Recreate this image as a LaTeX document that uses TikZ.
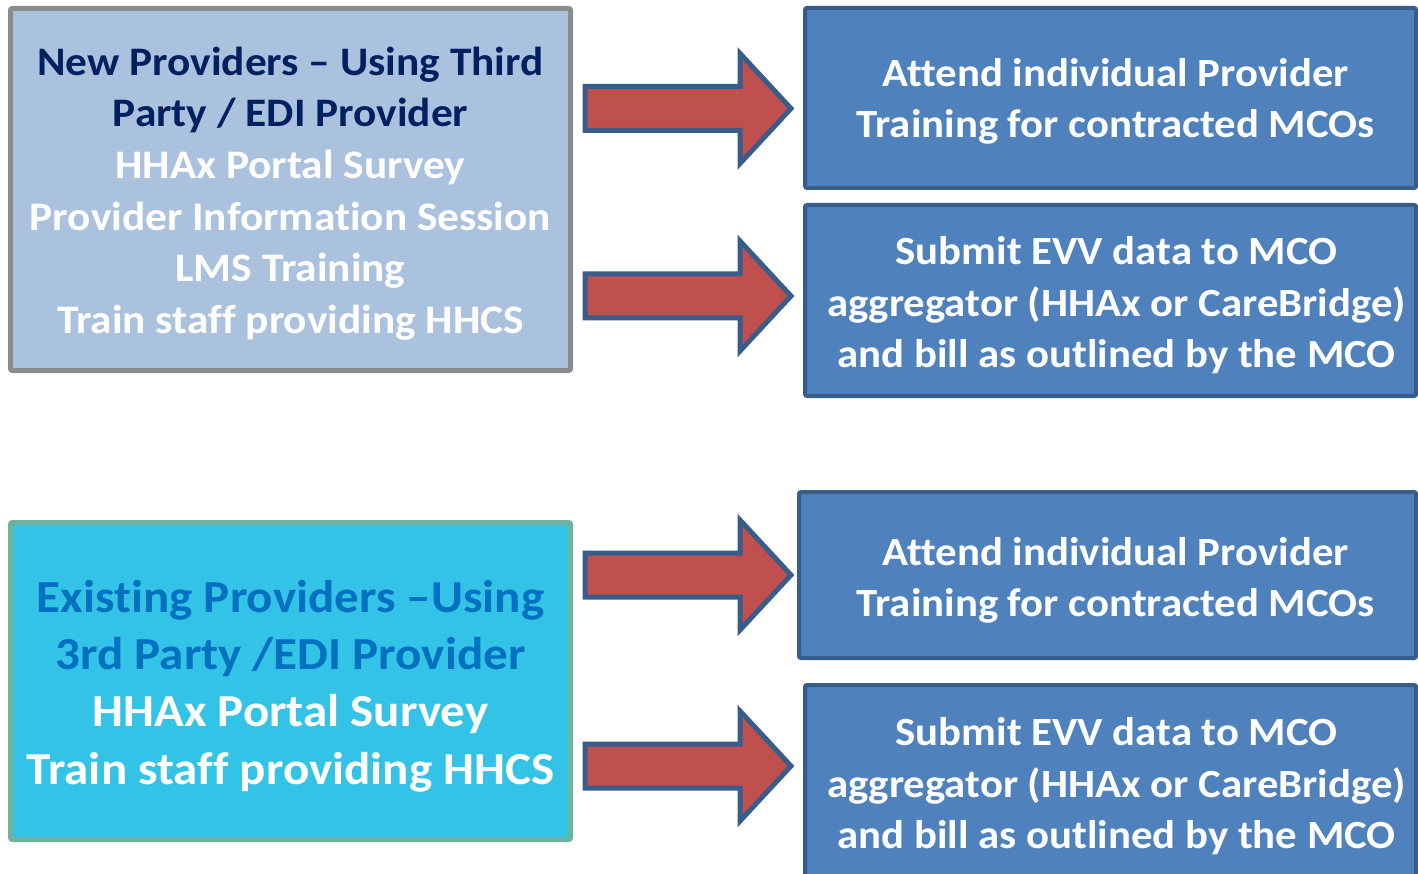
\documentclass[tikz,border=0pt]{standalone}
\usepackage{fontspec}
\setmainfont{Carlito}[FakeStretch=1.07, Ligatures={NoCommon,TeX}]
\usetikzlibrary{calc}
\definecolor{boxAfill}{HTML}{ABC2DF}
\definecolor{boxAline}{HTML}{8C8C8C}
\definecolor{boxBfill}{HTML}{32C3E6}
\definecolor{boxBline}{HTML}{6DB3A0}
\definecolor{rfill}{HTML}{4F81BD}
\definecolor{rline}{HTML}{385D8A}
\definecolor{arrfill}{HTML}{C0504D}
\definecolor{titleA}{HTML}{002060}
\definecolor{titleB}{HTML}{0070C0}
\tikzset{
  leftbox/.style={rectangle, rounded corners=2pt, line width=5pt, inner sep=0pt, minimum width=560pt},
  rightbox/.style={rectangle, rounded corners=2pt, line width=4pt, draw=rline, fill=rfill, inner sep=0pt},
  boxtext/.style={inner sep=0pt, align=center, text=white, font=\bfseries\fontsize{40.5}{51.6}\selectfont},
  rtext/.style={boxtext, font=\bfseries\fontsize{40}{51.5}\selectfont},
  blockarr/.style={draw=rline, fill=arrfill, line width=5pt, line join=miter}
}
\newcommand\blockarrow[2]{%
  \draw[blockarr] let \p1=(#1), \p2=(#2) in
    (\x1,\y1+22pt) -- (\x2-51pt,\y1+22pt) -- (\x2-51pt,\y1+55pt) -- (\x2,\y1)
    -- (\x2-51pt,\y1-55pt) -- (\x2-51pt,\y1-22pt) -- (\x1,\y1-22pt) -- cycle;}
\begin{document}
\begin{tikzpicture}[x=1pt,y=-1pt]
\useasboundingbox (0,0) rectangle (1418,874);
% left boxes
\node[leftbox, draw=boxAline, fill=boxAfill, minimum height=362pt] (L1) at (290.5,189.5) {};
\node[boxtext] (L1t) at ($(L1.center)+(0,4)$)
  {\textcolor{titleA}{New Providers -- Using Third}\\
   \textcolor{titleA}{Party / EDI Provider}\\
   HHAx Portal Survey\\
   Provider Information Session\\
   LMS Training\\
   Train staff providing HHCS};
\node[leftbox, draw=boxBline, fill=boxBfill, minimum height=317pt] (L2) at (290.5,681) {};
\node[boxtext, font=\bfseries\fontsize{45.8}{57.4}\selectfont] (L2t) at ($(L2.center)+(0,5)$)
  {\textcolor{titleB}{Existing Providers --Using}\\
   \textcolor{titleB}{3rd Party /EDI Provider}\\
   HHAx Portal Survey\\
   Train staff providing HHCS};
% right boxes
\node[rightbox, minimum width=611pt, minimum height=180pt] (R1) at (1110.5,98) {};
\node[rtext] (R1t) at ($(R1.center)+(5,3.5)$)
  {Attend individual Provider\\Training for contracted MCOs};
\node[rightbox, minimum width=611pt, minimum height=191pt] (R2) at (1110.5,300.5) {};
\node[rtext] (R2t) at ($(R2.center)+(6,5)$)
  {Submit EVV data to MCO\\aggregator (HHAx or CareBridge)\\and bill as outlined by the MCO};
\node[rightbox, minimum width=617pt, minimum height=166pt] (R3) at (1107.5,575) {};
\node[rtext] (R3t) at ($(R3.center)+(8,5.5)$)
  {Attend individual Provider\\Training for contracted MCOs};
\node[rightbox, minimum width=611pt, minimum height=198pt] (R4) at (1110.5,784) {};
\node[rtext] (R4t) at ($(R4.center)+(6,2.5)$)
  {Submit EVV data to MCO\\aggregator (HHAx or CareBridge)\\and bill as outlined by the MCO};
% arrow end points
\coordinate (s1) at ($(L1.east |- 0,108.5)+(12,0)$);
\coordinate (t1) at ($(R1.west |- 0,108.5)+(-12,0)$);
\coordinate (s2) at ($(L1.east |- 0,296)+(12,0)$);
\coordinate (t2) at ($(R2.west |- 0,296)+(-12,0)$);
\coordinate (s3) at ($(L2.east |- 0,575)+(12,0)$);
\coordinate (t3) at ($(R3.west |- 0,575)+(-6,0)$);
\coordinate (s4) at ($(L2.east |- 0,766)+(12,0)$);
\coordinate (t4) at ($(R4.west |- 0,766)+(-12,0)$);
\blockarrow{s1}{t1}
\blockarrow{s2}{t2}
\blockarrow{s3}{t3}
\blockarrow{s4}{t4}
\end{tikzpicture}
\end{document}
